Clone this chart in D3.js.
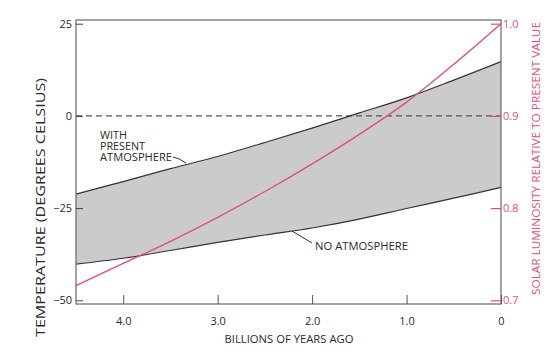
<!DOCTYPE html>
<html>
<head>
<meta charset="utf-8">
<script src="https://cdn.jsdelivr.net/npm/d3@7"></script>
<style>
  body { margin: 0; background: #fff; }
  svg text { font-family: "Open Sans", "Noto Sans", sans-serif; }
</style>
</head>
<body>
<div class="chart"></div>
<script>
// billions of years ago
var years = [4.5, 4.0, 3.5, 3.0, 2.5, 2.0, 1.5, 1.0, 0.5, 0];
// temperature with present atmosphere (deg C)
var withAtmosphere = [-21.2, -17.8, -14.3, -11.0, -7.2, -3.3, 0.8, 4.9, 9.7, 14.7];
// temperature with no atmosphere (deg C)
var noAtmosphere = [-40.2, -38.6, -36.5, -34.3, -32.3, -30.4, -28.0, -25.1, -22.3, -19.4];
// solar luminosity relative to present value
var luminosity = [0.716, 0.740, 0.764, 0.790, 0.818, 0.848, 0.880, 0.915, 0.956, 1.0];

var xTicks = [4.0, 3.0, 2.0, 1.0, 0];
var tempTicks = [25, 0, -25, -50];
var lumTicks = [1.0, 0.9, 0.8, 0.7];

var W = 550, H = 352;
var pl = 76, pr = 501, pt = 20, pb = 304;
var pink = "#e34d7d";
var ink = "#2a2a2a";

var svg = d3.select(".chart").append("svg")
    .attr("width", W)
    .attr("height", H);

var x = d3.scaleLinear().domain([4.5, 0]).range([pl, pr]);
var yT = d3.scaleLinear().domain([-51, 26]).range([pb, pt]);
// luminosity axis lines up with temperature: 0.9 <-> 0 C, 0.1 per 25 C
var yL = d3.scaleLinear().domain([0.9 - 51 / 250, 0.9 + 26 / 250]).range([pb, pt]);

var rows = years.map(function(t, i) {
  return { t: t, hi: withAtmosphere[i], lo: noAtmosphere[i], lum: luminosity[i] };
});

var curve = d3.curveCatmullRom.alpha(0.5);

// grey band between the two curves
var area = d3.area()
    .x(function(d) { return x(d.t); })
    .y0(function(d) { return yT(d.lo); })
    .y1(function(d) { return yT(d.hi); })
    .curve(curve);

svg.append("path")
    .datum(rows)
    .attr("d", area)
    .attr("fill", "#cbcbcd");

var lineHi = d3.line().x(function(d) { return x(d.t); }).y(function(d) { return yT(d.hi); }).curve(curve);
var lineLo = d3.line().x(function(d) { return x(d.t); }).y(function(d) { return yT(d.lo); }).curve(curve);
var lineLum = d3.line().x(function(d) { return x(d.t); }).y(function(d) { return yL(d.lum); }).curve(curve);

// zero line
svg.append("line")
    .attr("x1", pl).attr("x2", pr)
    .attr("y1", yT(0)).attr("y2", yT(0))
    .attr("stroke", "#555")
    .attr("stroke-width", 1.3)
    .attr("stroke-dasharray", "6,4");

svg.append("path").datum(rows).attr("d", lineHi)
    .attr("fill", "none").attr("stroke", "#333").attr("stroke-width", 1.2);
svg.append("path").datum(rows).attr("d", lineLo)
    .attr("fill", "none").attr("stroke", "#333").attr("stroke-width", 1.2);
svg.append("path").datum(rows).attr("d", lineLum)
    .attr("fill", "none").attr("stroke", pink).attr("stroke-width", 1.4);

// frame
svg.append("rect")
    .attr("x", pl).attr("y", pt)
    .attr("width", pr - pl).attr("height", pb - pt)
    .attr("fill", "none").attr("stroke", "#666").attr("stroke-width", 1.2);

// bottom axis, ticks pointing up
var xAxis = svg.append("g")
    .attr("transform", "translate(0," + pb + ")")
    .call(d3.axisBottom(x).tickValues(xTicks).tickSizeInner(-9).tickSizeOuter(0).tickPadding(13)
      .tickFormat(function(d) { return d === 0 ? "0" : d3.format(".1f")(d); }));
xAxis.select(".domain").remove();
xAxis.selectAll("line").attr("stroke", "#555");
xAxis.selectAll("text").attr("font-size", 11).attr("fill", ink);

// left axis
var yAxis = svg.append("g")
    .attr("transform", "translate(" + pl + ",0)")
    .call(d3.axisLeft(yT).tickValues(tempTicks).tickSizeInner(-7).tickSizeOuter(0).tickPadding(4)
      .tickFormat(function(d) { return d < 0 ? "\u2212" + Math.abs(d) : d; }));
yAxis.select(".domain").remove();
yAxis.selectAll("line").attr("stroke", "#444");
yAxis.selectAll("text").attr("font-size", 11).attr("fill", ink);

// right axis, pink
var rAxis = svg.append("g")
    .attr("transform", "translate(" + pr + ",0)")
    .call(d3.axisRight(yL).tickValues(lumTicks).tickSizeInner(-10).tickSizeOuter(0).tickPadding(2)
      .tickFormat(d3.format(".1f")));
rAxis.select(".domain").remove();
rAxis.selectAll("line").attr("stroke", pink).attr("stroke-width", 1.2);
rAxis.selectAll("text").attr("font-size", 11).attr("fill", pink);

// axis titles
svg.append("text")
    .attr("x", 289).attr("y", 343)
    .attr("text-anchor", "middle")
    .attr("font-size", 11).attr("fill", ink)
    .attr("textLength", 129).attr("lengthAdjust", "spacingAndGlyphs")
    .text("BILLIONS OF YEARS AGO");

svg.append("text")
    .attr("transform", "translate(45,207.5) rotate(-90)")
    .attr("text-anchor", "middle")
    .attr("font-size", 12.5).attr("fill", ink)
    .attr("textLength", 259).attr("lengthAdjust", "spacingAndGlyphs")
    .text("TEMPERATURE (DEGREES CELSIUS)");

svg.append("text")
    .attr("transform", "translate(540,158.5) rotate(-90)")
    .attr("text-anchor", "middle")
    .attr("font-size", 11.5).attr("fill", pink)
    .attr("textLength", 273).attr("lengthAdjust", "spacingAndGlyphs")
    .text("SOLAR LUMINOSITY RELATIVE TO PRESENT VALUE");

// annotations
var noteLines = ["WITH", "PRESENT", "ATMOSPHERE"];
var noteWidths = [27, 45, 72];
noteLines.forEach(function(s, i) {
  svg.append("text")
    .attr("x", 100).attr("y", 138.5 + i * 11)
    .attr("font-size", 10).attr("fill", ink)
    .attr("textLength", noteWidths[i]).attr("lengthAdjust", "spacingAndGlyphs")
    .text(s);
});
svg.append("path")
    .attr("d", "M173,157 Q179,158 186,163")
    .attr("fill", "none").attr("stroke", "#333").attr("stroke-width", 1);

svg.append("text")
    .attr("x", 315).attr("y", 250)
    .attr("font-size", 10.5).attr("fill", ink)
    .attr("textLength", 93).attr("lengthAdjust", "spacingAndGlyphs")
    .text("NO ATMOSPHERE");
svg.append("path")
    .attr("d", "M292,231 L312,243")
    .attr("fill", "none").attr("stroke", "#333").attr("stroke-width", 1);
</script>
</body>
</html>
